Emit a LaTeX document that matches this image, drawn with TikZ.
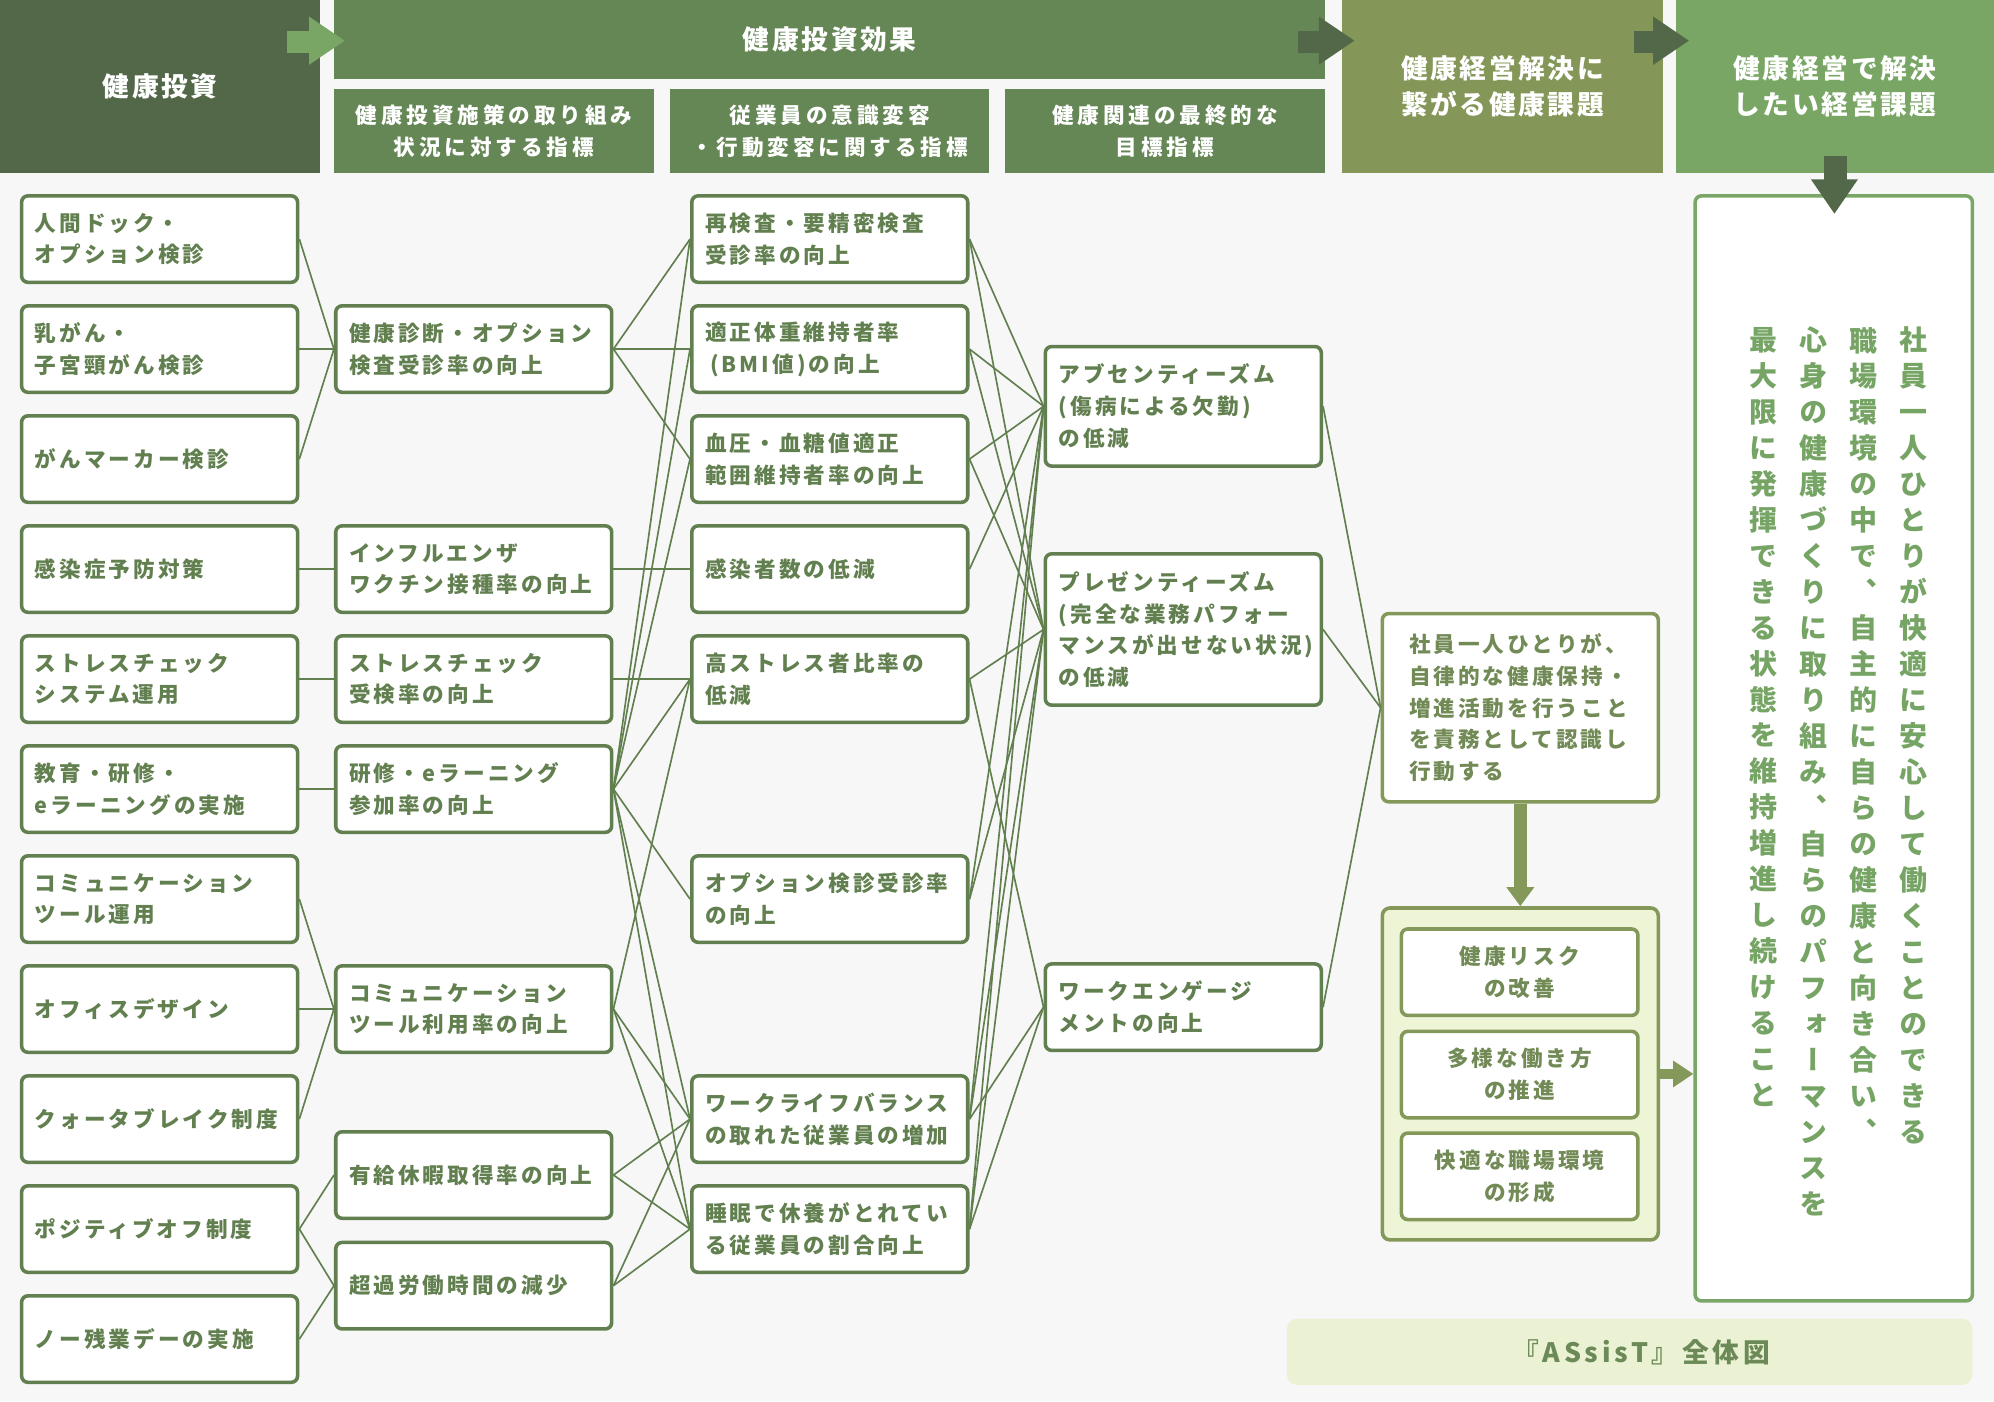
\documentclass[tikz,border=0pt]{standalone}
\usepackage{fontspec}
\usetikzlibrary{arrows.meta}
\setmainfont{Noto Sans CJK JP}
\newfontfamily\jpbox{Noto Sans CJK JP}[LetterSpace=14]
\newfontfamily\jphead{Noto Sans CJK JP}[LetterSpace=10]
\newfontfamily\jpsub{Noto Sans CJK JP}[LetterSpace=18]
\newfontfamily\jpvert{Noto Sans CJK JP}[RawFeature=+vert]
\ExplSyntaxOn
\NewDocumentCommand\vstack{m}{\tl_map_inline:nn{#1}{##1\\}}
\ExplSyntaxOff
\definecolor{bgc}{HTML}{F7F7F7}
\definecolor{hdark}{HTML}{526848}
\definecolor{hmid}{HTML}{658655}
\definecolor{holive}{HTML}{849758}
\definecolor{hlight}{HTML}{79A665}
\definecolor{gline}{HTML}{617F4F}
\definecolor{oline}{HTML}{84985A}
\definecolor{otext}{HTML}{728A55}
\definecolor{ltext}{HTML}{76A464}
\definecolor{lbord}{HTML}{7AA768}
\definecolor{cfill}{HTML}{EEF4D6}
\definecolor{bfill}{HTML}{EBF2D3}
\definecolor{btext}{HTML}{6C8A57}
\tikzset{
  hbox/.style={inner sep=0pt, text=white, align=center},
  hbig/.style={font=\jphead\bfseries\fontsize{21}{28}\selectfont},
  hsmall/.style={font=\jpsub\bfseries\fontsize{17}{25}\selectfont},
  gbox/.style={draw=gline, line width=2.8pt, rounded corners=5pt, fill=white,
    minimum width=217pt, minimum height=68pt, text width=196pt, inner xsep=10.5pt,
    inner ysep=0pt, align=left, text=gline, font=\jpbox\bfseries\fontsize{17}{25}\selectfont},
  obox/.style={draw=oline, line width=2.8pt, rounded corners=5pt, fill=white,
    text=otext, inner ysep=0pt, font=\jpbox\bfseries\fontsize{17}{25}\selectfont},
  gedge/.style={draw=gline, line width=1.3pt},
  vcol/.style={anchor=north, inner sep=0pt, align=center, text=ltext,
    font=\jpvert\bfseries\fontsize{22}{28.3}\selectfont},
}
\begin{document}
\begin{tikzpicture}[x=1pt,y=-1pt]
\fill[bgc] (0,0) rectangle (1568,1102);
\useasboundingbox (0,0) rectangle (1568,1102);
% headers
\node[hbox, hbig, fill=hdark, minimum width=252pt, minimum height=136pt] (h0) at (126,68) {健康投資};
\node[hbox, hbig, fill=hmid, minimum width=779pt, minimum height=62pt] (h1) at (652.5,31) {健康投資効果};
\node[hbox, hsmall, fill=hmid, minimum width=251pt, minimum height=66pt] (h1a) at (388.5,103) {健康投資施策の取り組み\\状況に対する指標};
\node[hbox, hsmall, fill=hmid, minimum width=251pt, minimum height=66pt] (h1b) at (652.5,103) {従業員の意識変容\\・行動変容に関する指標};
\node[hbox, hsmall, fill=hmid, minimum width=252pt, minimum height=66pt] (h1c) at (916,103) {健康関連の最終的な\\目標指標};
\node[hbox, hbig, fill=holive, minimum width=253pt, minimum height=136pt] (h2) at (1181.5,68) {健康経営解決に\\繋がる健康課題};
\node[hbox, hbig, fill=hlight, minimum width=250pt, minimum height=136pt] (h3) at (1443,68) {健康経営で解決\\したい経営課題};
% header arrows
\fill[hlight] (226,24.5) rectangle (244,41.5);
\fill[hlight] (243,13) -- (271,32) -- (243,51) -- cycle;
\fill[hdark] (1021,24.5) rectangle (1038,41.5);
\fill[hdark] (1037,13) -- (1065,32) -- (1037,51) -- cycle;
\fill[hdark] (1285,24.5) rectangle (1301,41.5);
\fill[hdark] (1300,13) -- (1328,32) -- (1300,51) -- cycle;
% column 1
\node[gbox] (a1) at (125.5,188) {人間ドック・\\オプション検診};
\node[gbox] (a2) at (125.5,274.5) {乳がん・\\子宮頸がん検診};
\node[gbox] (a3) at (125.5,361) {がんマーカー検診};
\node[gbox] (a4) at (125.5,447.5) {感染症予防対策};
\node[gbox] (a5) at (125.5,534) {ストレスチェック\\システム運用};
\node[gbox] (a6) at (125.5,620.5) {教育・研修・\\eラーニングの実施};
\node[gbox] (a7) at (125.5,707) {コミュニケーション\\ツール運用};
\node[gbox] (a8) at (125.5,793.5) {オフィスデザイン};
\node[gbox] (a9) at (125.5,880) {クォータブレイク制度};
\node[gbox] (a10) at (125.5,966.5) {ポジティブオフ制度};
\node[gbox] (a11) at (125.5,1053) {ノー残業デーの実施};
% column 2
\node[gbox] (b1) at (372.5,274.5) {健康診断・オプション\\検査受診率の向上};
\node[gbox] (b2) at (372.5,447.5) {インフルエンザ\\ワクチン接種率の向上};
\node[gbox] (b3) at (372.5,534) {ストレスチェック\\受検率の向上};
\node[gbox] (b4) at (372.5,620.5) {研修・eラーニング\\参加率の向上};
\node[gbox] (b5) at (372.5,793.5) {コミュニケーション\\ツール利用率の向上};
\node[gbox] (b6) at (372.5,924) {有給休暇取得率の向上};
\node[gbox] (b7) at (372.5,1011) {超過労働時間の減少};
% column 3
\node[gbox] (c1) at (652.5,188) {再検査・要精密検査\\受診率の向上};
\node[gbox] (c2) at (652.5,274.5) {適正体重維持者率\\\hspace*{4pt}(BMI値)の向上};
\node[gbox] (c3) at (652.5,361) {血圧・血糖値適正\\範囲維持者率の向上};
\node[gbox] (c4) at (652.5,447.5) {感染者数の低減};
\node[gbox] (c5) at (652.5,534) {高ストレス者比率の\\低減};
\node[gbox] (c6) at (652.5,707) {オプション検診受診率\\の向上};
\node[gbox] (c7) at (652.5,880) {ワークライフバランス\\の取れた従業員の増加};
\node[gbox] (c8) at (652.5,966.5) {睡眠で休養がとれてい\\る従業員の割合向上};
% column 4
\node[gbox, minimum height=94pt] (d1) at (930.5,319.5) {アブセンティーズム\\(傷病による欠勤)\\の低減};
\node[gbox, minimum height=119pt] (d2) at (930.5,495) {プレゼンティーズム\\(完全な業務パフォー\\マンスが出せない状況)\\の低減};
\node[gbox] (d3) at (930.5,792) {ワークエンゲージ\\メントの向上};
% column 5
\node[obox, minimum width=217pt, minimum height=148pt, text width=175pt, inner xsep=21pt, align=left] (e1) at (1195.5,556.5)
  {社員一人ひとりが、\\自律的な健康保持・\\増進活動を行うこと\\を責務として認識し\\行動する};
\node[draw=oline, line width=2.8pt, rounded corners=6pt, fill=cfill, minimum width=217pt, minimum height=261pt, inner sep=0pt] (grp) at (1195.5,844.5) {};
\node[obox, minimum width=186pt, minimum height=68pt, align=center, inner xsep=0pt] (f1) at (1195,764.5) {健康リスク\\の改善};
\node[obox, minimum width=186pt, minimum height=68pt, align=center, inner xsep=0pt] (f2) at (1195,845) {多様な働き方\\の推進};
\node[obox, minimum width=186pt, minimum height=68pt, align=center, inner xsep=0pt] (f3) at (1195,925) {快適な職場環境\\の形成};
% column 6
\node[draw=lbord, line width=2.8pt, rounded corners=5pt, fill=white, minimum width=218pt, minimum height=869pt, inner sep=0pt] (g) at (1442,588.5) {};
\node[vcol] (v1) at (1505,257) {\vstack{社員一人ひとりが快適に安心して働くことのできる}};
\node[vcol] (v2) at (1465.5,257) {\vstack{職場環境の中で、自主的に自らの健康と向き合い、}};
\node[vcol] (v3) at (1426,257) {\vstack{心身の健康づくりに取り組み、自らのパフォーマンスを}};
\node[vcol] (v4) at (1387,257) {\vstack{最大限に発揮できる状態を維持増進し続けること}};
% down arrow from header
\fill[hdark] (1434,123) rectangle (1452,142);
\fill[hdark] (1424,141) -- (1461,141) -- (1442.5,168) -- cycle;
% banner
\node[fill=bfill, rounded corners=8pt, minimum width=539pt, minimum height=52pt, inner sep=0pt,
  text=btext, font=\jpbox\bfseries\fontsize{21}{25}\selectfont] (ban) at (1281.5,1063) {\hspace*{18pt}『ASsisT』全体図};
% block arrows
\draw[oline, line width=10pt, -{Triangle[length=15pt,width=21pt]}] (e1.south) -- (grp.north);
\draw[oline, line width=8pt, -{Triangle[length=16pt,width=20pt]}] (grp.east) -- (grp.east -| g.west);
% edges col1 -> col2
\foreach \s/\t in {a1/b1,a2/b1,a3/b1,a4/b2,a5/b3,a6/b4,a7/b5,a8/b5,a9/b5,a10/b6,a10/b7,a11/b7}
  \draw[gedge] (\s.east) -- (\t.west);
% edges col2 -> col3
\foreach \s/\t in {b1/c1,b1/c2,b1/c3,b2/c4,b3/c5,b4/c1,b4/c2,b4/c3,b4/c5,b4/c6,b4/c7,b4/c8,
  b5/c5,b5/c7,b5/c8,b6/c7,b6/c8,b7/c7,b7/c8}
  \draw[gedge] (\s.east) -- (\t.west);
% edges col3 -> col4
\foreach \s/\t in {c1/d1,c1/d2,c2/d1,c2/d2,c3/d1,c3/d2,c4/d1,c5/d2,c5/d3,c6/d1,c6/d2,
  c7/d1,c7/d2,c7/d3,c8/d1,c8/d2,c8/d3}
  \draw[gedge] (\s.east) -- (\t.west);
% edges col4 -> col5
\foreach \s in {d1,d2,d3}
  \draw[gedge] (\s.east) -- (e1.west);
\end{tikzpicture}
\end{document}
